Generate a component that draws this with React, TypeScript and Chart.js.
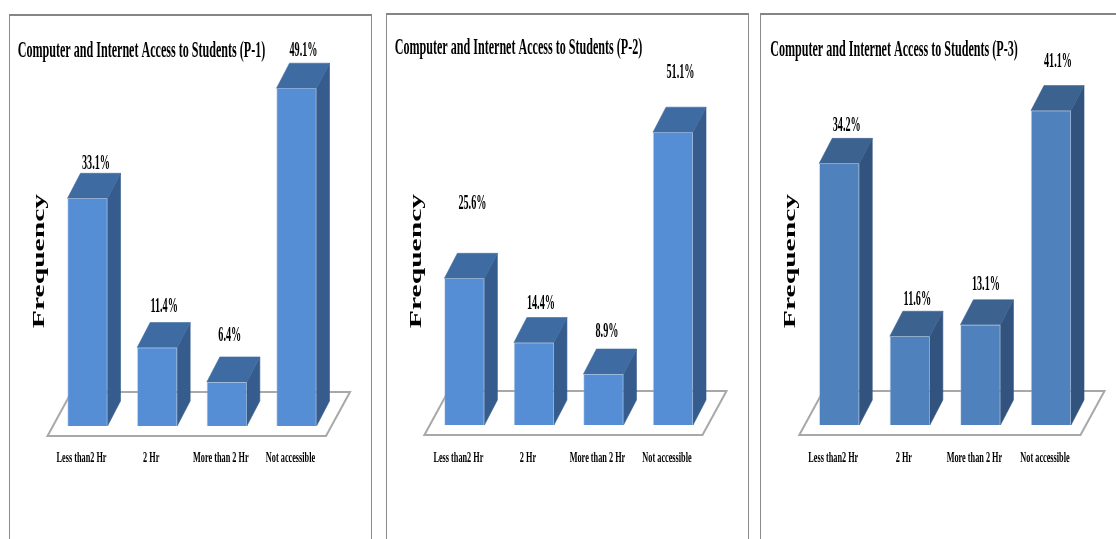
import React, { useEffect, useRef } from "react";
import { Chart, registerables } from "chart.js";

Chart.register(...registerables);

const categories = ["Less than2 Hr", "2 Hr", "More than 2 Hr", "Not accessible"];
const p1Values = [33.1, 11.4, 6.4, 49.1];
const p2Values = [25.6, 14.4, 8.9, 51.1];
const p3Values = [34.2, 11.6, 13.1, 41.1];

const AXIS_TITLE = "Frequency";
const SERIF = '"Liberation Serif", serif';
const BAR_W = 40;
const DEPTH_X = 13;
const DEPTH_Y = 25;

const PANELS = [
  {
    title: "Computer and Internet Access to Students (P-1)",
    values: p1Values,
    frame: [9, 372, 14],
    centers: [87.5, 296.5],
    base: 426,
    perUnit: 6.88,
    yMax: 60,
    titleAt: [141.5, 51],
    axisX: 40,
    labelDx: [8.5, 7, 3, 7],
    labelLift: [35, 42, 47, 38],
    colors: ["#558ed5", "#3f6ba3", "#355c8c"],
  },
  {
    title: "Computer and Internet Access to Students (P-2)",
    values: p2Values,
    frame: [386, 749, 13],
    centers: [464.4, 673],
    base: 425,
    perUnit: 5.73,
    yMax: 70,
    titleAt: [518.5, 48],
    axisX: 417,
    labelDx: [8, 7, 3.5, 7.5],
    labelLift: [75, 40, 43, 60],
    colors: ["#558ed5", "#3f6ba3", "#355c8c"],
  },
  {
    title: "Computer and Internet Access to Students (P-3)",
    values: p3Values,
    frame: [760, 1130, 13],
    centers: [839.25, 1051],
    base: 425,
    perUnit: 7.65,
    yMax: 53,
    titleAt: [894, 50],
    axisX: 791,
    labelDx: [7.5, 7.5, 5.5, 7],
    labelLift: [39, 37, 41, 50],
    colors: ["#4f81bd", "#3c6390", "#31537e"],
  },
];

function stretchedText(
  ctx: CanvasRenderingContext2D,
  text: string,
  x: number,
  y: number,
  font: string,
  scaleX: number,
  angle = 0,
) {
  ctx.save();
  ctx.translate(x, y);
  ctx.rotate(angle);
  ctx.scale(scaleX, 1);
  ctx.font = font;
  ctx.fillStyle = "#000";
  ctx.textAlign = "center";
  ctx.textBaseline = "middle";
  ctx.fillText(text, 0, 0);
  ctx.restore();
}

function polygon(ctx: CanvasRenderingContext2D, pts: number[][], fill: string) {
  ctx.beginPath();
  pts.forEach(([x, y], i) => (i ? ctx.lineTo(x, y) : ctx.moveTo(x, y)));
  ctx.closePath();
  ctx.fillStyle = fill;
  ctx.fill();
  ctx.strokeStyle = fill;
  ctx.lineWidth = 0.6;
  ctx.stroke();
}

function PanelChart({ panel }: { panel: (typeof PANELS)[number] }) {
  const ref = useRef<HTMLCanvasElement | null>(null);
  const [frameL, frameR, frameTop] = panel.frame;

  useEffect(() => {
    const canvas = ref.current;
    if (!canvas) return;
    const width = Math.min(frameR, 1116) - frameL;
    const height = 539;
    const step = (panel.centers[1] - panel.centers[0]) / 3;
    const areaL = panel.centers[0] - step / 2 - frameL;
    const areaR = panel.centers[1] + step / 2 - frameL;
    const areaTop = panel.base - panel.yMax * panel.perUnit;

    // Draws the floor slab and the side and top faces behind each bar front.
    const prism = {
      id: "prism",
      beforeDatasetsDraw(chart: any) {
        const ctx = chart.ctx as CanvasRenderingContext2D;
        const bars = chart.getDatasetMeta(0).data;
        const base = chart.scales.y.getPixelForValue(0);
        const fl = bars[0].x - BAR_W / 2 - 20;
        const fr = bars[3].x + BAR_W / 2 + 9.5;
        ctx.save();
        ctx.beginPath();
        ctx.moveTo(fl, base + 10);
        ctx.lineTo(fr, base + 10);
        ctx.lineTo(fr + 24, base - 34);
        ctx.lineTo(fl + 24, base - 34);
        ctx.closePath();
        ctx.fillStyle = "#fff";
        ctx.fill();
        ctx.strokeStyle = "#a8a8a8";
        ctx.lineWidth = 2;
        ctx.stroke();
        bars.forEach((b: any) => {
          const l = b.x - BAR_W / 2;
          const r = b.x + BAR_W / 2;
          polygon(ctx, [[r, b.y], [r + DEPTH_X, b.y - DEPTH_Y], [r + DEPTH_X, base - DEPTH_Y], [r, base]], panel.colors[2]);
          polygon(ctx, [[l, b.y], [l + DEPTH_X, b.y - DEPTH_Y], [r + DEPTH_X, b.y - DEPTH_Y], [r, b.y]], panel.colors[1]);
        });
        ctx.restore();
      },
      afterDraw(chart: any) {
        const ctx = chart.ctx as CanvasRenderingContext2D;
        const bars = chart.getDatasetMeta(0).data;
        stretchedText(ctx, panel.title, panel.titleAt[0] - frameL, panel.titleAt[1], `bold 23px ${SERIF}`, 0.525);
        stretchedText(ctx, AXIS_TITLE, panel.axisX - frameL, 261, `bold 16px ${SERIF}`, 1.85, -Math.PI / 2);
        bars.forEach((b: any, i: number) => {
          const label = `${panel.values[i].toFixed(1)}%`;
          stretchedText(ctx, label, b.x + panel.labelDx[i], b.y - panel.labelLift[i] + 1, `bold 20px ${SERIF}`, 0.51);
          stretchedText(ctx, categories[i], b.x - 6, 458, `bold 15px ${SERIF}`, 0.55);
        });
      },
    };

    const chart = new Chart(canvas, {
      type: "bar",
      data: {
        labels: categories,
        datasets: [
          {
            data: panel.values,
            backgroundColor: panel.colors[0],
            borderColor: "rgba(150,180,220,0.4)",
            borderWidth: 1,
            barThickness: BAR_W,
          },
        ],
      },
      options: {
        animation: false,
        responsive: false,
        maintainAspectRatio: false,
        layout: {
          padding: {
            left: areaL,
            right: width - areaR,
            top: areaTop,
            bottom: height - panel.base,
          },
        },
        plugins: { legend: { display: false }, tooltip: { enabled: false }, title: { display: false } },
        scales: {
          x: { display: false },
          y: { display: false, min: 0, max: panel.yMax },
        },
      },
      plugins: [prism],
    } as any);
    return () => chart.destroy();
  }, [panel, frameL, frameR]);

  const canvasWidth = Math.min(frameR, 1116) - frameL;
  return (
    <>
      <div
        style={{
          position: "absolute",
          boxSizing: "border-box",
          left: frameL,
          top: frameTop,
          width: frameR - frameL,
          height: 560,
          borderTop: "2px solid #858585",
          borderLeft: "1px solid #8c8c8c",
          borderRight: "1px solid #8c8c8c",
        }}
      />
      <canvas
        ref={ref}
        width={canvasWidth}
        height={539}
        style={{ position: "absolute", left: frameL, top: 0, width: canvasWidth, height: 539 }}
      />
    </>
  );
}

export default function App() {
  return (
    <div style={{ position: "fixed", inset: 0, overflow: "hidden", background: "#fff" }}>
      {PANELS.map((p) => (
        <PanelChart key={p.title} panel={p} />
      ))}
    </div>
  );
}
